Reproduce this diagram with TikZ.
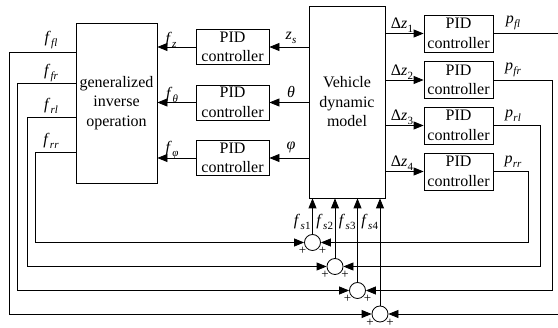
\documentclass[tikz,border=0pt]{standalone}
\usepackage{fontspec}
\setmainfont{Liberation Serif}
\usetikzlibrary{arrows.meta,calc}
\newcommand{\vl}[2]{\textit{#1}\kern0.3pt\raisebox{-0.5ex}{\fontsize{11}{11}\selectfont #2}}
\begin{document}
\begin{tikzpicture}[x=1pt,y=-1pt, line width=0.8pt,
 blk/.style={draw, inner sep=0, align=center, font=\fontsize{16}{19.5}\selectfont},
 pidl/.style={blk, minimum width=73pt, minimum height=35pt},
 pidr/.style={blk, minimum width=69pt, minimum height=37pt},
 arr/.style={-{Triangle[length=10pt,width=8pt]}},
 lbl/.style={font=\fontsize{16}{16}\selectfont, inner sep=0},
 pl/.style={font=\fontsize{13}{13}\selectfont, inner sep=0},
 sumc/.style={draw, circle, minimum size=16pt, inner sep=0, fill=white}]
\useasboundingbox (0,0) rectangle (558,328);

\node[blk, minimum width=81pt, minimum height=160pt] (gi) at (116.5,103) {generalized\\inverse\\operation};
\node[blk, minimum width=76pt, minimum height=192pt] (vd) at (347,102) {Vehicle\\dynamic\\model};

\node[pidl] (c1) at (232.5,47) {PID\\controller};
\node[pidl] (c2) at (232.5,102.5) {PID\\controller};
\node[pidl] (c3) at (232.5,158) {PID\\controller};

\node[pidr] (q1) at (458.5,33.5) {PID\\controller};
\node[pidr] (q2) at (458.5,80) {PID\\controller};
\node[pidr] (q3) at (458.5,125.5) {PID\\controller};
\node[pidr] (q4) at (458.5,171.5) {PID\\controller};

\node[sumc] (s1) at (312.5,242.5) {};
\node[sumc] (s2) at (335,266.5) {};
\node[sumc] (s3) at (357.5,290.5) {};
\node[sumc] (s4) at (380,314) {};

% left column arrows
\foreach \i in {1,2,3}{
  \draw[arr] (c\i.west) -- (c\i.west -| gi.east);
  \draw[arr] (c\i.east -| vd.west) -- (c\i.east);
}
% right column arrows
\foreach \i in {1,2,3,4}{
  \draw[arr] (q\i.west -| vd.east) -- (q\i.west);
}
% vertical arrows into vehicle model
\foreach \i in {1,2,3,4}{
  \draw[arr] (s\i.north) -- (s\i.north |- vd.south);
}

% left feedback
\coordinate (gfl) at (76,52);
\coordinate (gfr) at (76,83);
\coordinate (grl) at (76,117);
\coordinate (grr) at (76,152);
\draw[arr] (gfl) -- (9,52) |- (s4.west);
\draw[arr] (gfr) -- (17.5,83) |- (s3.west);
\draw[arr] (grl) -- (27,117) |- (s2.west);
\draw[arr] (grr) -- (35,152) |- (s1.west);

% right feedback
\coordinate (efl) at (558,33.5);
\coordinate (efb) at (558,314);
\draw (q1.east) -- (efl);
\draw[arr] (q2.east) -- (552,80) |- (s3.east);
\draw[arr] (q3.east) -- (540,125.5) |- (s2.east);
\draw[arr] (q4.east) -- (528,171.5) |- (s1.east);
\draw[arr] (efb) -- (s4.east);

% plus signs
\foreach \i in {1,2,3,4}{
  \node[pl] (pa\i) at ($(s\i.center)+(-10,8.5)$) {+};
  \node[pl] (pb\i) at ($(s\i.center)+(10,8.5)$) {+};
}

% labels
\node[lbl] (lfl) at (51,40) {\vl{f}{\textit{fl}}};
\node[lbl] (lfr) at (51,73) {\vl{f}{\textit{fr}}};
\node[lbl] (lrl) at (51,106) {\vl{f}{\textit{rl}}};
\node[lbl] (lrr) at (51,141) {\vl{f}{\textit{rr}}};

\node[lbl] (lfz) at (171,40) {\vl{f}{\textit{z}}};
\node[lbl] (lft) at (172,95) {\vl{f}{\textit{θ}}};
\node[lbl] (lfp) at (172,150) {\vl{f}{\textit{φ}}};

\node[lbl] (lzs) at (291,38) {\vl{z}{\textit{s}}};
\node[lbl] (lth) at (291,92) {\textit{θ}};
\node[lbl] (lph) at (291,147) {\textit{φ}};

\node[lbl] (dz1) at (402,25) {Δ\vl{z}{1}};
\node[lbl] (dz2) at (402,72) {Δ\vl{z}{2}};
\node[lbl] (dz3) at (402,117) {Δ\vl{z}{3}};
\node[lbl] (dz4) at (402,163) {Δ\vl{z}{4}};

\node[lbl] (pfl) at (513,23) {\vl{p}{\textit{fl}}};
\node[lbl] (pfr) at (513,70) {\vl{p}{\textit{fr}}};
\node[lbl] (prl) at (513,116) {\vl{p}{\textit{rl}}};
\node[lbl] (prr) at (513,162) {\vl{p}{\textit{rr}}};

\foreach \i in {1,2,3,4}{
  \node[lbl, anchor=east] (fs\i) at ($(s\i.north |- 0,222)+(-1.5,0)$) {\vl{f}{\textit{s}\kern0.3pt\i}};
}
\end{tikzpicture}
\end{document}
